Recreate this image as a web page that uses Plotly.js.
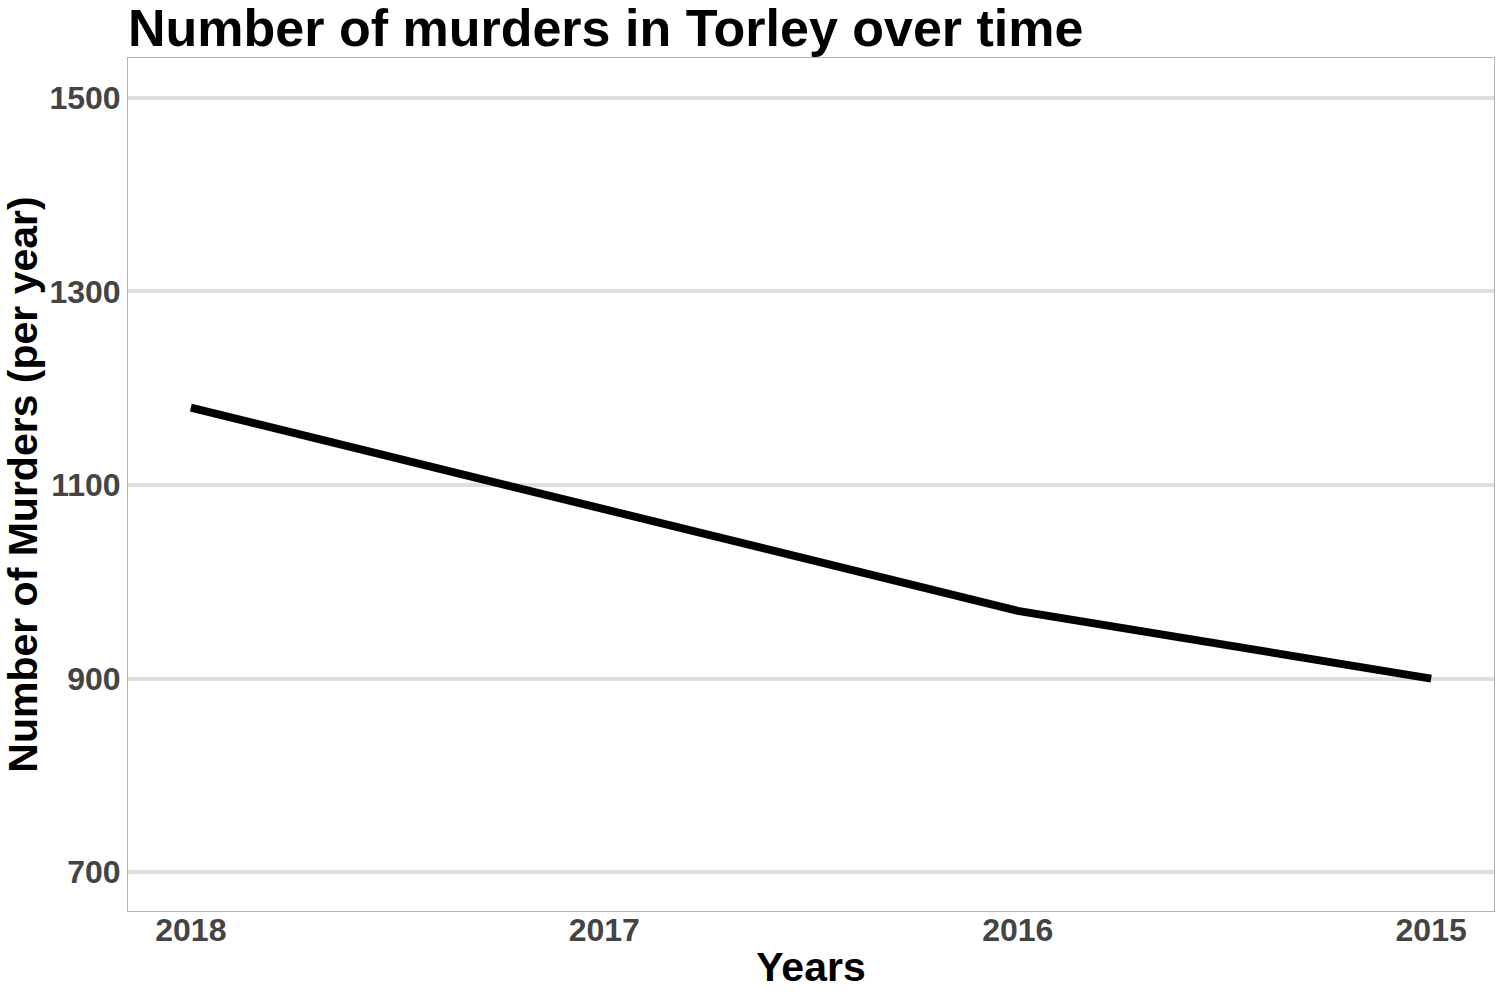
<!DOCTYPE html>
<html>
<head>
<meta charset="utf-8">
<script src="https://cdn.plot.ly/plotly-3.0.1.min.js"></script>
<style>html,body{margin:0;padding:0;background:#fff;}#chart{width:1500px;height:1000px;}</style>
</head>
<body>
<div id="chart"></div>
<script>
const years = [2018, 2017, 2016, 2015];
const murders = [1180, 1075, 970, 900];
const yTicks = [700, 900, 1100, 1300, 1500];
const xTicks = [2018, 2017, 2016, 2015];

const font = "Liberation Sans, Arial, Helvetica, sans-serif";

Plotly.newPlot('chart', [{
  x: years,
  y: murders,
  type: 'scatter',
  mode: 'lines',
  line: {color: '#000000', width: 8},
  hoverinfo: 'skip'
}], {
  width: 1500,
  height: 1000,
  margin: {l: 128, r: 6, t: 58, b: 89},
  paper_bgcolor: '#ffffff',
  plot_bgcolor: '#ffffff',
  showlegend: false,
  title: {
    text: '<b>Number of murders in Torley over time</b>',
    font: {family: font, size: 52, color: '#000000'},
    xref: 'paper', x: 0, xanchor: 'left',
    yref: 'container', y: 0.99, yanchor: 'top'
  },
  xaxis: {
    range: [2018.152, 2014.848],
    tickvals: xTicks,
    ticktext: xTicks.map(String),
    showgrid: false,
    zeroline: false,
    showline: true, mirror: true, linecolor: '#b3b3b3', linewidth: 1,
    ticks: '',
    ticklabelstandoff: -9,
    tickfont: {family: font, size: 32, color: '#444444', weight: 'bold'},
    title: {text: '<b>Years</b>', font: {family: font, size: 41, color: '#000000'}, standoff: 4}
  },
  yaxis: {
    range: [660, 1541],
    tickvals: yTicks,
    ticktext: yTicks.map(String),
    showgrid: true, gridcolor: '#dedede', gridwidth: 4,
    zeroline: false,
    showline: true, mirror: true, linecolor: '#b3b3b3', linewidth: 1,
    ticks: '',
    ticklabelstandoff: 0,
    tickfont: {family: font, size: 32, color: '#444444', weight: 'bold'},
    title: {text: '<b>Number of Murders (per year)</b>', font: {family: font, size: 41, color: '#000000'}, standoff: 8}
  }
}, {displayModeBar: false, staticPlot: true});
</script>
</body>
</html>
